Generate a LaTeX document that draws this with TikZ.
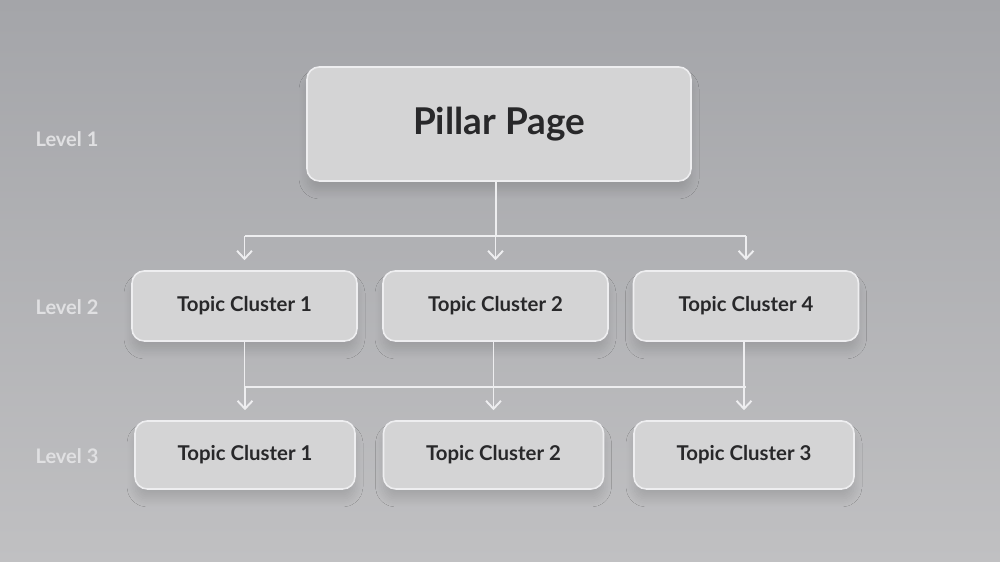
\documentclass[tikz,border=0pt]{standalone}
\usepackage{fontspec}
\setmainfont{Lato}
\usepackage{xcolor}
\usepackage{tikz}
\usetikzlibrary{arrows.meta, positioning, calc, backgrounds, shadows.blur}

\definecolor{bgtop}{RGB}{164,165,169}
\definecolor{bgmid}{RGB}{190,190,193}
\definecolor{bgbot}{RGB}{192,192,194}
\definecolor{boxfill}{RGB}{212,212,213}
\definecolor{boxline}{RGB}{238,238,240}
\definecolor{inktext}{RGB}{40,40,42}
\definecolor{levelgray}{RGB}{224,224,226}

\tikzset{
    cardbox/.style={draw=boxline, line width=0.9pt, fill=boxfill, rounded corners=7pt,
        text=inktext, font=\bfseries, align=center,
        blur shadow={shadow xshift=0pt, shadow yshift=-2mm, shadow blur radius=1.6mm, shadow blur extra rounding=2mm, shadow blur steps=12, shadow opacity=12}},
    pillarbox/.style={cardbox, minimum width=7.68cm, minimum height=2.28cm, font=\fontsize{21}{25}\selectfont\bfseries},
    topicbox/.style={cardbox, minimum width=4.5cm, minimum height=1.4cm, font=\fontsize{11.6}{14}\selectfont\bfseries},
    levellabel/.style={text=levelgray, font=\fontsize{11.4}{13}\selectfont\bfseries},
    link/.style={draw=boxline, line width=1.1pt},
    linkarrow/.style={link, -{Straight Barb[length=1.6mm, width=3mm, line width=1.1pt]}, shorten >=2mm}
}

\begin{document}
\begin{tikzpicture}
    % Background
    \useasboundingbox (0,0) rectangle (20,11.24);
    \shade[top color=bgtop, middle color=bgmid, bottom color=bgbot] (0,0) rectangle (20,11.24);

    % Level labels
    \node[levellabel] (lvlA) at (1.34,8.46) {Level 1};
    \node[levellabel] (lvlB) at (1.34,5.10) {Level 2};
    \node[levellabel] (lvlC) at (1.34,2.12) {Level 3};

    % Level 1
    \node[pillarbox] (pillar) at (9.98,8.76) {Pillar Page};

    % Level 2
    \node[topicbox] (tcA) at (4.89,5.12) {Topic Cluster 1};
    \node[topicbox] (tcB) at (9.91,5.12) {Topic Cluster 2};
    \node[topicbox] (tcD) at (14.92,5.12) {Topic Cluster 4};

    % Level 3
    \node[topicbox, minimum width=4.4cm, minimum height=1.36cm] (subA) at (4.90,2.14) {Topic Cluster 1};
    \node[topicbox, minimum width=4.4cm, minimum height=1.36cm] (subB) at (9.87,2.14) {Topic Cluster 2};
    \node[topicbox, minimum width=4.4cm, minimum height=1.36cm] (subC) at (14.88,2.14) {Topic Cluster 3};

    % Bus lines
    \coordinate (busA) at (9.92,6.52);
    \coordinate (busB) at (9.88,3.50);

    % Pillar -> level 2
    \draw[link] (pillar.south -| busA) -- (busA);
    \draw[link] (busA -| tcA.north) -- (busA -| tcD.north);
    \foreach \n in {tcA, tcB, tcD} {
        \draw[linkarrow] (busA -| \n.north) -- (\n.north);
    }

    % Level 2 -> level 3
    \draw[link] (tcA.south) -- (tcA.south |- busB);
    \draw[link] (tcA.south |- busB) -- (tcD.south |- busB);
    \draw[linkarrow] (busB -| subA.north) -- (subA.north);
    \draw[linkarrow] (tcB.south -| subB.north) -- (subB.north);
    \draw[linkarrow] (tcD.south -| subC.north) -- (subC.north);
\end{tikzpicture}
\end{document}
